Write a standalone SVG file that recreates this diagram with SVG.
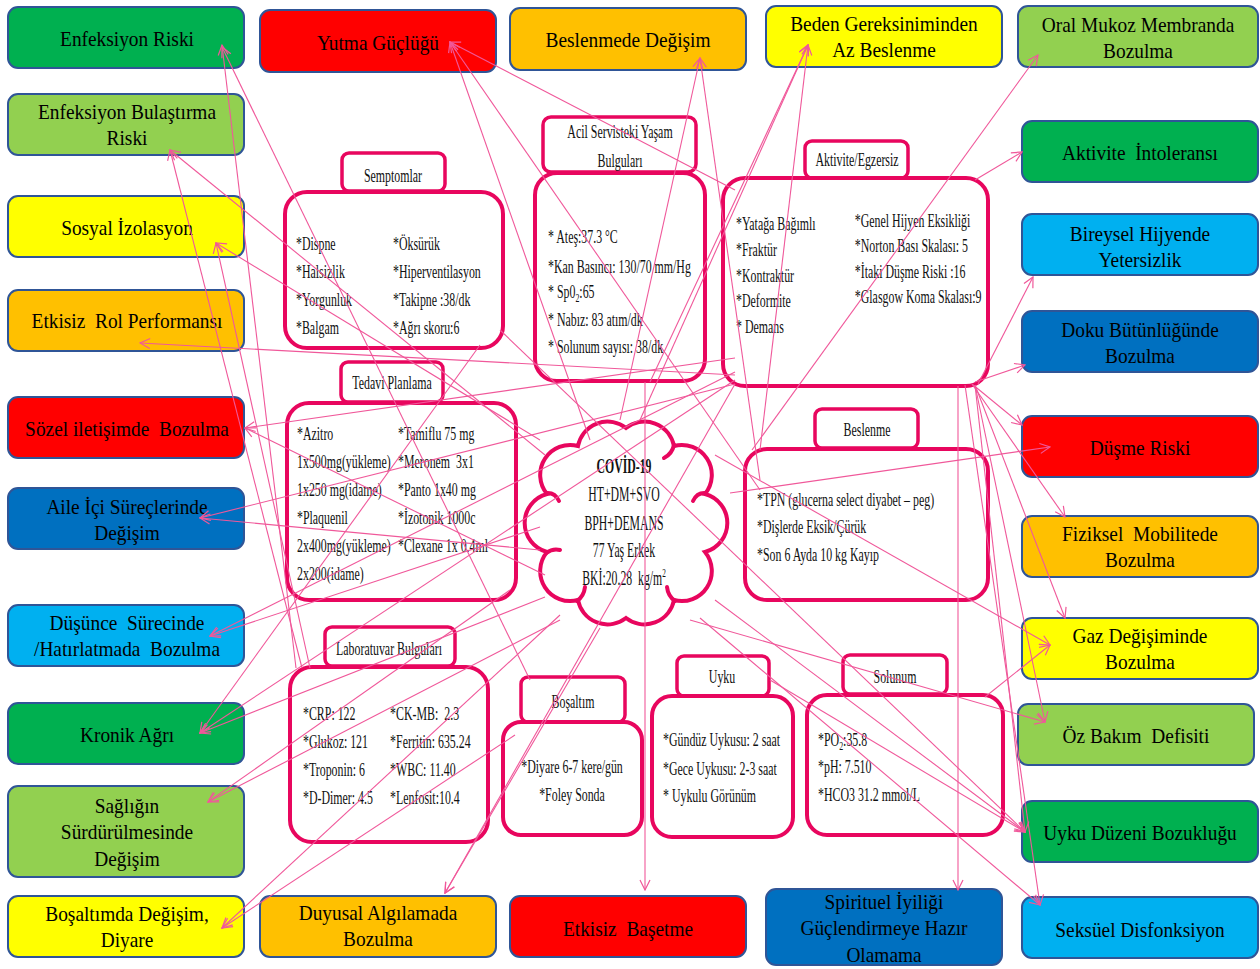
<svg xmlns="http://www.w3.org/2000/svg" width="1260" height="969" viewBox="0 0 1260 969">
<style>
.nb{stroke:#2F5597;stroke-width:2}
.lb{font-family:"Liberation Serif","Times New Roman",serif;font-size:22px;fill:#000;text-anchor:middle}
.pn{fill:#fff;stroke:#E8065E;stroke-width:4}
.tb{fill:#fff;stroke:#E8065E;stroke-width:3.5}
.pt{font-family:"Liberation Serif","Times New Roman",serif;font-size:18px;fill:#111}
.ptc{font-family:"Liberation Serif","Times New Roman",serif;font-size:18px;fill:#111;text-anchor:middle}
.cv{font-family:"Liberation Serif","Times New Roman",serif;font-size:21px;fill:#111;text-anchor:middle}
.curl{fill:none;stroke:#E8065E;stroke-width:4;stroke-linecap:round}
#connectors line{stroke:#F0589A;stroke-width:1.1;fill:none;marker-end:url(#ah)}
</style>
<defs>
<marker id="ah" viewBox="0 0 12 12" refX="11" refY="6" markerWidth="12" markerHeight="12" markerUnits="userSpaceOnUse" orient="auto">
<path d="M1,1 L11,6 L1,11" fill="none" stroke="#F0589A" stroke-width="1.2"/>
</marker>
</defs>
<rect width="1260" height="969" fill="#fff"/>

<!-- Left column -->
<g id="n-enfeksiyon-riski"><rect class="nb" x="8" y="7" width="236" height="61" rx="10" fill="#00B050"/><text class="lb" transform="translate(127,46) scale(.88,1)">Enfeksiyon Riski</text></g>
<g id="n-enfeksiyon-bulastirma"><rect class="nb" x="8" y="94" width="236" height="61" rx="10" fill="#92D050"/><text class="lb" transform="translate(127,119) scale(.88,1)"><tspan x="0">Enfeksiyon Bulaştırma</tspan><tspan x="0" dy="26.5">Riski</tspan></text></g>
<g id="n-sosyal"><rect class="nb" x="8" y="196" width="236" height="61" rx="10" fill="#FFFF00"/><text class="lb" transform="translate(127,235) scale(.88,1)">Sosyal İzolasyon</text></g>
<g id="n-rol"><rect class="nb" x="8" y="290" width="236" height="61" rx="10" fill="#FFC000"/><text class="lb" transform="translate(127,328) scale(.88,1)" xml:space="preserve">Etkisiz  Rol Performansı</text></g>
<g id="n-sozel"><rect class="nb" x="8" y="397" width="236" height="61" rx="10" fill="#FF0000"/><text class="lb" transform="translate(127,436) scale(.88,1)" xml:space="preserve">Sözel iletişimde  Bozulma</text></g>
<g id="n-aile"><rect class="nb" x="8" y="488" width="236" height="61" rx="10" fill="#0070C0"/><text class="lb" transform="translate(127,514) scale(.88,1)"><tspan x="0">Aile İçi Süreçlerinde</tspan><tspan x="0" dy="26.5">Değişim</tspan></text></g>
<g id="n-dusunce"><rect class="nb" x="8" y="605" width="236" height="61" rx="10" fill="#00B0F0"/><text class="lb" transform="translate(127,630) scale(.88,1)" xml:space="preserve"><tspan x="0">Düşünce  Sürecinde</tspan><tspan x="0" dy="26.5">/Hatırlatmada  Bozulma</tspan></text></g>
<g id="n-kronik"><rect class="nb" x="8" y="703" width="236" height="61" rx="10" fill="#00B050"/><text class="lb" transform="translate(127,742) scale(.88,1)">Kronik Ağrı</text></g>
<g id="n-saglik"><rect class="nb" x="8" y="786" width="236" height="91" rx="10" fill="#92D050"/><text class="lb" transform="translate(127,813) scale(.88,1)"><tspan x="0">Sağlığın</tspan><tspan x="0" dy="26.5">Sürdürülmesinde</tspan><tspan x="0" dy="26.5">Değişim</tspan></text></g>
<g id="n-bosaltimda"><rect class="nb" x="8" y="896" width="236" height="61" rx="10" fill="#FFFF00"/><text class="lb" transform="translate(127,921) scale(.88,1)"><tspan x="0">Boşaltımda Değişim,</tspan><tspan x="0" dy="26.5">Diyare</tspan></text></g>

<!-- Top row -->
<g id="n-yutma"><rect class="nb" x="260" y="10" width="236" height="62" rx="10" fill="#FF0000"/><text class="lb" transform="translate(378,50) scale(.88,1)">Yutma Güçlüğü</text></g>
<g id="n-beslenmede"><rect class="nb" x="510" y="8" width="236" height="62" rx="10" fill="#FFC000"/><text class="lb" transform="translate(628,47) scale(.88,1)">Beslenmede Değişim</text></g>
<g id="n-beden"><rect class="nb" x="766" y="6" width="236" height="61" rx="10" fill="#FFFF00"/><text class="lb" transform="translate(884,31) scale(.88,1)"><tspan x="0">Beden Gereksiniminden</tspan><tspan x="0" dy="26.5">Az Beslenme</tspan></text></g>
<g id="n-oral"><rect class="nb" x="1018" y="6" width="240" height="61" rx="10" fill="#92D050"/><text class="lb" transform="translate(1138,32) scale(.88,1)"><tspan x="0">Oral Mukoz Membranda</tspan><tspan x="0" dy="26.5">Bozulma</tspan></text></g>

<!-- Right column -->
<g id="n-aktivite-int"><rect class="nb" x="1022" y="121" width="236" height="61" rx="10" fill="#00B050"/><text class="lb" transform="translate(1140,160) scale(.88,1)" xml:space="preserve">Aktivite  İntoleransı</text></g>
<g id="n-bireysel"><rect class="nb" x="1022" y="214" width="236" height="61" rx="10" fill="#00B0F0"/><text class="lb" transform="translate(1140,241) scale(.88,1)"><tspan x="0">Bireysel Hijyende</tspan><tspan x="0" dy="26.5">Yetersizlik</tspan></text></g>
<g id="n-doku"><rect class="nb" x="1022" y="311" width="236" height="61" rx="10" fill="#0070C0"/><text class="lb" transform="translate(1140,337) scale(.88,1)"><tspan x="0">Doku Bütünlüğünde</tspan><tspan x="0" dy="26.5">Bozulma</tspan></text></g>
<g id="n-dusme"><rect class="nb" x="1022" y="416" width="236" height="61" rx="10" fill="#FF0000"/><text class="lb" transform="translate(1140,455) scale(.88,1)">Düşme Riski</text></g>
<g id="n-fiziksel"><rect class="nb" x="1022" y="516" width="236" height="61" rx="10" fill="#FFC000"/><text class="lb" transform="translate(1140,541) scale(.88,1)" xml:space="preserve"><tspan x="0">Fiziksel  Mobilitede</tspan><tspan x="0" dy="26.5">Bozulma</tspan></text></g>
<g id="n-gaz"><rect class="nb" x="1022" y="618" width="236" height="61" rx="10" fill="#FFFF00"/><text class="lb" transform="translate(1140,643) scale(.88,1)"><tspan x="0">Gaz Değişiminde</tspan><tspan x="0" dy="26.5">Bozulma</tspan></text></g>
<g id="n-ozbakim"><rect class="nb" x="1018" y="704" width="236" height="61" rx="10" fill="#92D050"/><text class="lb" transform="translate(1136,743) scale(.88,1)" xml:space="preserve">Öz Bakım  Defisiti</text></g>
<g id="n-uyku-duzeni"><rect class="nb" x="1022" y="801" width="236" height="61" rx="10" fill="#00B050"/><text class="lb" transform="translate(1140,840) scale(.88,1)">Uyku Düzeni Bozukluğu</text></g>
<g id="n-seksuel"><rect class="nb" x="1022" y="897" width="236" height="61" rx="10" fill="#00B0F0"/><text class="lb" transform="translate(1140,937) scale(.88,1)">Seksüel Disfonksiyon</text></g>

<!-- Bottom row -->
<g id="n-duyusal"><rect class="nb" x="260" y="896" width="236" height="61" rx="10" fill="#FFC000"/><text class="lb" transform="translate(378,920) scale(.88,1)"><tspan x="0">Duyusal Algılamada</tspan><tspan x="0" dy="26.5">Bozulma</tspan></text></g>
<g id="n-basetme"><rect class="nb" x="510" y="896" width="236" height="61" rx="10" fill="#FF0000"/><text class="lb" transform="translate(628,936) scale(.88,1)" xml:space="preserve">Etkisiz  Başetme</text></g>
<g id="n-spirituel"><rect class="nb" x="766" y="889" width="236" height="76" rx="10" fill="#0070C0"/><text class="lb" transform="translate(884,909) scale(.88,1)"><tspan x="0">Spirituel İyiliği</tspan><tspan x="0" dy="26.5">Güçlendirmeye Hazır</tspan><tspan x="0" dy="26.5">Olamama</tspan></text></g>

<!-- Central panels -->
<g id="p-semptomlar">
<rect class="tb" x="342" y="153" width="103" height="38" rx="7"/>
<rect class="pn" x="285" y="192" width="218" height="156" rx="22"/>
<text class="ptc" transform="translate(393,182) scale(.66,1)">Semptomlar</text>
<g transform="translate(296,0) scale(.66,1)">
<text class="pt" x="0" y="250">*Dispne</text><text class="pt" x="0" y="278">*Halsizlik</text><text class="pt" x="0" y="306">*Yorgunluk</text><text class="pt" x="0" y="334">*Balgam</text>
<text class="pt" x="147" y="250">*Öksürük</text><text class="pt" x="147" y="278">*Hiperventilasyon</text><text class="pt" x="147" y="306">*Takipne :38/dk</text><text class="pt" x="147" y="334">*Ağrı skoru:6</text>
</g>
</g>

<g id="p-acil">
<rect class="tb" x="543" y="117" width="153" height="55" rx="8"/>
<rect class="pn" x="535" y="173" width="170" height="208" rx="22"/>
<text class="ptc" transform="translate(620,138) scale(.66,1)"><tspan x="0">Acil Servisteki Yaşam</tspan><tspan x="0" dy="29">Bulguları</tspan></text>
<g transform="translate(548,0) scale(.66,1)">
<text class="pt" x="0" y="243">* Ateş:37.3 °C</text>
<text class="pt" x="0" y="273">*Kan Basıncı: 130/70 mm/Hg</text>
<text class="pt" x="0" y="298">* Sp0<tspan font-size="12" dy="4">2</tspan><tspan dy="-4">:65</tspan></text>
<text class="pt" x="0" y="326">* Nabız: 83 atım/dk</text>
<text class="pt" x="0" y="353">* Solunum sayısı: 38/dk</text>
</g>
</g>

<g id="p-aktivite">
<rect class="tb" x="805" y="141" width="103" height="37" rx="7"/>
<rect class="pn" x="723" y="178" width="265" height="208" rx="22"/>
<text class="ptc" transform="translate(857,166) scale(.66,1)">Aktivite/Egzersiz</text>
<g transform="translate(736,0) scale(.66,1)">
<text class="pt" x="0" y="230">*Yatağa Bağımlı</text><text class="pt" x="0" y="256">*Fraktür</text><text class="pt" x="0" y="282">*Kontraktür</text><text class="pt" x="0" y="307">*Deformite</text><text class="pt" x="0" y="333">* Demans</text>
<text class="pt" x="180" y="227">*Genel Hijyen Eksikliği</text><text class="pt" x="180" y="252">*Norton Bası Skalası: 5</text><text class="pt" x="180" y="278">*İtaki Düşme Riski :16</text><text class="pt" x="180" y="303">*Glasgow Koma Skalası:9</text>
</g>
</g>

<g id="p-tedavi">
<rect class="tb" x="341" y="362" width="102" height="40" rx="7"/>
<rect class="pn" x="287" y="403" width="229" height="197" rx="22"/>
<text class="ptc" transform="translate(392,389) scale(.66,1)">Tedavi Planlama</text>
<g transform="translate(297,0) scale(.66,1)">
<text class="pt" x="0" y="440">*Azitro</text><text class="pt" x="0" y="468">1x500mg(yükleme)</text><text class="pt" x="0" y="496">1x250 mg(idame)</text><text class="pt" x="0" y="524">*Plaquenil</text><text class="pt" x="0" y="552">2x400mg(yükleme)</text><text class="pt" x="0" y="580">2x200(idame)</text>
<text class="pt" x="153" y="440">*Tamiflu 75 mg</text><text class="pt" x="153" y="468" xml:space="preserve">*Meronem  3x1</text><text class="pt" x="153" y="496">*Panto 1x40 mg</text><text class="pt" x="153" y="524">*İzotonik 1000c</text><text class="pt" x="153" y="552">*Clexane 1x 0.4ml</text>
</g>
</g>

<g id="p-covid">
<path d="M626,428 A30,30 0 0 1 674,446 A30,30 0 0 1 705,494 A30,30 0 0 1 705,552 A30,30 0 0 1 674,600 A30,30 0 0 1 626,618 A30,30 0 0 1 578,600 A30,30 0 0 1 547,552 A30,30 0 0 1 547,494 A30,30 0 0 1 578,446 A30,30 0 0 1 626,428 Z" fill="#fff" stroke="#E8065E" stroke-width="4"/>
<path class="curl" d="M706,493 Q697,492 693,501"/>
<path class="curl" d="M675,601 Q668,596 667,587"/>
<path class="curl" d="M577,601 Q584,596 585,587"/>
<path class="curl" d="M546,493 Q555,492 559,501"/>
<path class="curl" d="M546,553 Q553,548 560,550"/>
<path class="curl" d="M674,445 Q672,454 664,458"/>
<g transform="translate(624,0) scale(.56,1)">
<text class="cv" x="0" y="473" font-weight="bold">COVİD-19</text>
<text class="cv" x="0" y="501">HT+DM+SVO</text>
<text class="cv" x="0" y="530">BPH+DEMANS</text>
<text class="cv" x="0" y="557">77 Yaş Erkek</text>
<text class="cv" x="0" y="585" xml:space="preserve">BKİ:20.28  kg/m<tspan font-size="13" dy="-8">2</tspan></text>
</g>
</g>

<g id="p-beslenme">
<rect class="tb" x="815" y="409" width="103" height="39" rx="7"/>
<rect class="pn" x="745" y="449" width="243" height="151" rx="22"/>
<text class="ptc" transform="translate(867,436) scale(.66,1)">Beslenme</text>
<g transform="translate(757,0) scale(.66,1)">
<text class="pt" x="0" y="506">*TPN (glucerna select diyabet – peg)</text>
<text class="pt" x="0" y="533">*Dişlerde Eksik/Çürük</text>
<text class="pt" x="0" y="561">*Son 6 Ayda 10 kg Kayıp</text>
</g>
</g>

<g id="p-laboratuvar">
<rect class="tb" x="325" y="627" width="130" height="39" rx="7"/>
<rect class="pn" x="290" y="667" width="198" height="175" rx="22"/>
<text class="ptc" transform="translate(389,655) scale(.66,1)">Laboratuvar Bulguları</text>
<g transform="translate(303,0) scale(.66,1)">
<text class="pt" x="0" y="720">*CRP: 122</text><text class="pt" x="0" y="748">*Glukoz: 121</text><text class="pt" x="0" y="776">*Troponin: 6</text><text class="pt" x="0" y="804">*D-Dimer: 4.5</text>
<text class="pt" x="132" y="720" xml:space="preserve">*CK-MB:  2.3</text><text class="pt" x="132" y="748">*Ferritin: 635.24</text><text class="pt" x="132" y="776">*WBC: 11.40</text><text class="pt" x="132" y="804">*Lenfosit:10.4</text>
</g>
</g>

<g id="p-bosaltim">
<rect class="tb" x="521" y="677" width="104" height="45" rx="7"/>
<rect class="pn" x="503" y="722" width="139" height="113" rx="18"/>
<text class="ptc" transform="translate(573,708) scale(.66,1)">Boşaltım</text>
<g transform="translate(572,0) scale(.66,1)">
<text class="ptc" x="0" y="773">*Diyare 6-7 kere/gün</text>
<text class="ptc" x="0" y="801">*Foley Sonda</text>
</g>
</g>

<g id="p-uyku">
<rect class="tb" x="677" y="656" width="92" height="40" rx="7"/>
<rect class="pn" x="652" y="696" width="141" height="141" rx="20"/>
<text class="ptc" transform="translate(722,683) scale(.66,1)">Uyku</text>
<g transform="translate(663,0) scale(.66,1)">
<text class="pt" x="0" y="746">*Gündüz Uykusu: 2 saat</text>
<text class="pt" x="0" y="775">*Gece Uykusu: 2-3 saat</text>
<text class="pt" x="0" y="802">* Uykulu Görünüm</text>
</g>
</g>

<g id="p-solunum">
<rect class="tb" x="843" y="655" width="104" height="39" rx="7"/>
<rect class="pn" x="807" y="695" width="196" height="140" rx="20"/>
<text class="ptc" transform="translate(895,683) scale(.66,1)">Solunum</text>
<g transform="translate(818,0) scale(.66,1)">
<text class="pt" x="0" y="746">*PO<tspan font-size="12" dy="4">2</tspan><tspan dy="-4">:35.8</tspan></text>
<text class="pt" x="0" y="773">*pH: 7.510</text>
<text class="pt" x="0" y="801">*HCO3 31.2 mmol/L</text>
</g>
</g>

<g id="connectors">
<line x1="296" y1="668" x2="222" y2="45"/>
<line x1="530" y1="680" x2="222" y2="47"/>
<line x1="302" y1="668" x2="170" y2="150"/>
<line x1="545" y1="455" x2="170" y2="150"/>
<line x1="310" y1="668" x2="216" y2="243"/>
<line x1="540" y1="440" x2="216" y2="243"/>
<line x1="735" y1="375" x2="140" y2="343"/>
<line x1="735" y1="358" x2="245" y2="428"/>
<line x1="545" y1="575" x2="245" y2="428"/>
<line x1="735" y1="384" x2="200" y2="518"/>
<line x1="540" y1="550" x2="200" y2="518"/>
<line x1="735" y1="372" x2="210" y2="636"/>
<line x1="540" y1="527" x2="210" y2="636"/>
<line x1="480" y1="345" x2="200" y2="733"/>
<line x1="735" y1="380" x2="200" y2="733"/>
<line x1="545" y1="597" x2="200" y2="733"/>
<line x1="510" y1="590" x2="208" y2="802"/>
<line x1="560" y1="620" x2="208" y2="802"/>
<line x1="515" y1="735" x2="222" y2="928"/>
<line x1="560" y1="615" x2="222" y2="928"/>
<line x1="735" y1="384" x2="445" y2="893"/>
<line x1="600" y1="628" x2="445" y2="893"/>
<line x1="645" y1="382" x2="645" y2="890"/>
<line x1="958" y1="386" x2="958" y2="890"/>
<line x1="965" y1="385" x2="1040" y2="905"/>
<line x1="700" y1="618" x2="1040" y2="905"/>
<line x1="770" y1="680" x2="1025" y2="832"/>
<line x1="975" y1="385" x2="1025" y2="832"/>
<line x1="715" y1="600" x2="1025" y2="832"/>
<line x1="500" y1="330" x2="1025" y2="832"/>
<line x1="975" y1="385" x2="1045" y2="722"/>
<line x1="690" y1="620" x2="1045" y2="722"/>
<line x1="985" y1="697" x2="1050" y2="645"/>
<line x1="715" y1="455" x2="1050" y2="645"/>
<line x1="975" y1="385" x2="1065" y2="618"/>
<line x1="972" y1="384" x2="1065" y2="517"/>
<line x1="972" y1="384" x2="1022" y2="425"/>
<line x1="730" y1="493" x2="1050" y2="447"/>
<line x1="975" y1="382" x2="1025" y2="365"/>
<line x1="978" y1="384" x2="1033" y2="277"/>
<line x1="975" y1="180" x2="1022" y2="152"/>
<line x1="752" y1="450" x2="1038" y2="55"/>
<line x1="760" y1="450" x2="808" y2="45"/>
<line x1="640" y1="420" x2="808" y2="45"/>
<line x1="650" y1="382" x2="808" y2="45"/>
<line x1="760" y1="480" x2="700" y2="58"/>
<line x1="620" y1="420" x2="700" y2="58"/>
<line x1="760" y1="490" x2="450" y2="42"/>
<line x1="735" y1="190" x2="450" y2="42"/>
<line x1="590" y1="440" x2="450" y2="42"/>
</g>
</svg>
